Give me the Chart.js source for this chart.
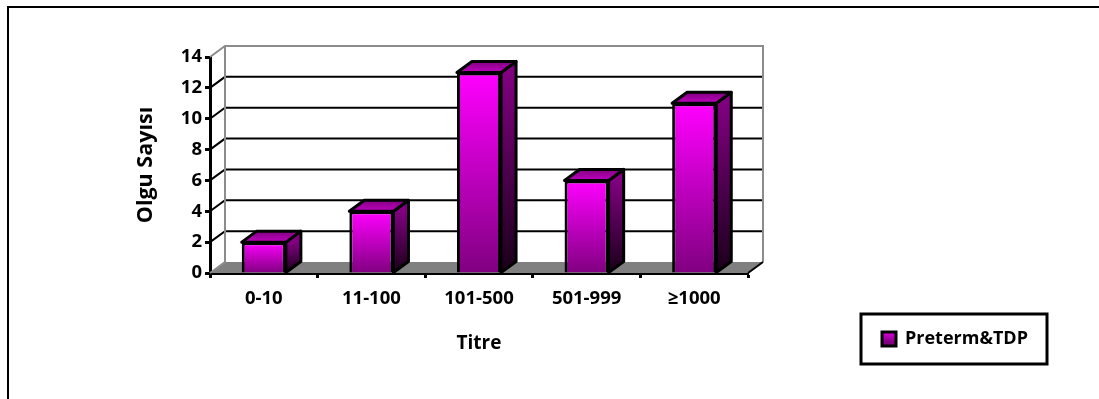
<!DOCTYPE html>
<html>
<head>
<meta charset="utf-8">
<script src="https://cdn.jsdelivr.net/npm/chart.js@4"></script>
<style>
  html, body { margin: 0; padding: 0; background: #fff; }
  #wrap { width: 1099px; height: 399px; position: relative; overflow: hidden; }
  #frame { position: absolute; left: 7px; top: 6px; width: 1200px; height: 600px; border: 2px solid #000; }
  canvas { position: absolute; left: 0; top: 0; }
</style>
</head>
<body>
<div id="wrap">
  <div id="frame"></div>
  <canvas id="titreChart" width="1099" height="399"></canvas>
</div>
<script>
const categories = ['0-10', '11-100', '101-500', '501-999', '≥1000'];
const seriesName = 'Preterm&TDP';
const caseCounts = [2, 4, 13, 6, 11];
const yTicks = [0, 2, 4, 6, 8, 10, 12, 14];

const FONT = '"Open Sans", sans-serif';
const DEPTH_X = 15;
const DEPTH_Y = -11;

function vGradient(ctx, y0, y1, top, bottom) {
  const g = ctx.createLinearGradient(0, y0, 0, y1);
  g.addColorStop(0, top);
  g.addColorStop(1, bottom);
  return g;
}

function poly(ctx, pts, fill, stroke, width) {
  ctx.beginPath();
  pts.forEach((p, i) => (i ? ctx.lineTo(p[0], p[1]) : ctx.moveTo(p[0], p[1])));
  ctx.closePath();
  if (fill) { ctx.fillStyle = fill; ctx.fill(); }
  if (stroke) { ctx.strokeStyle = stroke; ctx.lineWidth = width; ctx.lineJoin = 'round'; ctx.stroke(); }
}

// back wall, floor and grid sit behind the bars
const wallPlugin = {
  id: 'wall',
  beforeDatasetsDraw(chart) {
    const { ctx, chartArea: a, scales: { y } } = chart;
    ctx.save();
    const floorY = y.getPixelForValue(0);
    const topY = y.getPixelForValue(14);

    poly(ctx, [[a.left, floorY], [a.right, floorY], [a.right + DEPTH_X, floorY + DEPTH_Y], [a.left + DEPTH_X, floorY + DEPTH_Y]], '#808080');

    ctx.lineWidth = 2;
    yTicks.slice(1, -1).forEach(v => {
      const py = y.getPixelForValue(v);
      ctx.strokeStyle = '#000';
      ctx.beginPath();
      ctx.moveTo(a.left, py);
      ctx.lineTo(a.left + DEPTH_X, py + DEPTH_Y);
      ctx.lineTo(a.right + DEPTH_X, py + DEPTH_Y);
      ctx.stroke();
    });

    ctx.strokeStyle = '#8c8c8c';
    ctx.beginPath();
    ctx.moveTo(a.left, topY);
    ctx.lineTo(a.left + DEPTH_X, topY + DEPTH_Y);
    ctx.lineTo(a.right + DEPTH_X, topY + DEPTH_Y);
    ctx.lineTo(a.right + DEPTH_X, floorY + DEPTH_Y);
    ctx.moveTo(a.left + DEPTH_X, topY + DEPTH_Y);
    ctx.lineTo(a.left + DEPTH_X, floorY + DEPTH_Y);
    ctx.lineTo(a.left, floorY);
    ctx.stroke();

    ctx.strokeStyle = '#000';
    ctx.beginPath();
    ctx.moveTo(a.right, floorY);
    ctx.lineTo(a.right + DEPTH_X, floorY + DEPTH_Y);
    ctx.stroke();
    ctx.restore();
  }
};

// side and top faces of each column, taken from the bar elements
const facesPlugin = {
  id: 'faces',
  afterDatasetDraw(chart) {
    const { ctx } = chart;
    ctx.save();
    chart.getDatasetMeta(0).data.forEach(bar => {
      const p = bar.getProps(['x', 'y', 'base', 'width'], true);
      const l = p.x - p.width / 2;
      const r = p.x + p.width / 2;
      const side = vGradient(ctx, p.y, p.base, '#800080', '#1a001a');
      const top = vGradient(ctx, p.y + DEPTH_Y, p.y, '#800080', '#c000c0');
      poly(ctx, [[r, p.y], [r + DEPTH_X, p.y + DEPTH_Y], [r + DEPTH_X, p.base + DEPTH_Y], [r, p.base]], side, '#000', 3);
      poly(ctx, [[l, p.y], [l + DEPTH_X, p.y + DEPTH_Y], [r + DEPTH_X, p.y + DEPTH_Y], [r, p.y]], top, '#000', 3);
    });
    ctx.restore();
  }
};

// the legend sits in its own boxed area low on the right
const LEGEND_BOX = { left: 861, top: 314, right: 1047, bottom: 364 };
const LEGEND_INSET = 6;
const legendBoxPlugin = {
  id: 'legendBox',
  afterLayout(chart) {
    Object.assign(chart.legend, LEGEND_BOX);
    chart.legend.left += LEGEND_INSET;
    chart.legend.width = LEGEND_BOX.right - chart.legend.left;
    chart.legend.height = LEGEND_BOX.bottom - LEGEND_BOX.top;
  },
  beforeDraw(chart) {
    const { ctx } = chart;
    ctx.save();
    ctx.strokeStyle = '#000';
    ctx.lineWidth = 3;
    ctx.strokeRect(LEGEND_BOX.left, LEGEND_BOX.top, LEGEND_BOX.right - LEGEND_BOX.left, LEGEND_BOX.bottom - LEGEND_BOX.top);
    ctx.restore();
  }
};

const canvas = document.getElementById('titreChart');
const ctx2d = canvas.getContext('2d');

new Chart(canvas, {
  type: 'bar',
  data: {
    labels: categories,
    datasets: [{
      label: seriesName,
      data: caseCounts,
      barPercentage: 0.41,
      categoryPercentage: 1,
      borderColor: '#000',
      borderWidth: 3,
      backgroundColor(c) {
        const y = c.chart.scales.y;
        const top = y && y.getPixelForValue(caseCounts[c.dataIndex]);
        if (!Number.isFinite(top)) return '#ff00ff';
        return vGradient(c.chart.ctx, top, y.getPixelForValue(0), '#ff00ff', '#800080');
      }
    }]
  },
  options: {
    responsive: false,
    animation: false,
    layout: { padding: { left: 133, right: 351, top: 57, bottom: 26 } },
    plugins: {
      tooltip: { enabled: false },
      title: { display: false },
      legend: {
        position: 'chartArea',
        align: 'center',
        labels: {
          color: '#000',
          font: { family: FONT, size: 18, weight: 'bold' },
          boxWidth: 14,
          boxHeight: 14,
          padding: 15,
          generateLabels() {
            return [{
              text: seriesName,
              fillStyle: vGradient(ctx2d, 329, 342, '#ff00ff', '#800080'),
              strokeStyle: '#000',
              lineWidth: 3,
              datasetIndex: 0
            }];
          }
        }
      }
    },
    scales: {
      x: {
        afterFit(s) { s.height = 100; },
        grid: { display: true, drawOnChartArea: false, drawTicks: true, tickLength: 5, tickColor: '#000', tickWidth: 3 },
        border: { color: '#000', width: 3 },
        ticks: { color: '#000', font: { family: FONT, size: 18.5, weight: 'bold' }, padding: 10, maxRotation: 0 },
        title: { display: true, text: 'Titre', color: '#000', font: { family: FONT, size: 19, weight: 'bold' }, padding: { top: 0, bottom: 18 } }
      },
      y: {
        min: 0,
        max: 14,
        afterFit(s) { s.width = 77; },
        afterBuildTicks(s) { s.ticks = yTicks.map(v => ({ value: v })); },
        grid: { display: true, drawOnChartArea: false, drawTicks: true, tickLength: 5, tickColor: '#000', tickWidth: 3 },
        border: { color: '#000', width: 3 },
        ticks: { color: '#000', font: { family: FONT, size: 18.5, weight: 'bold' }, padding: 3 },
        title: { display: true, text: 'Olgu Sayısı', color: '#000', font: { family: FONT, size: 21.5, weight: 'bold' }, padding: { top: 0, bottom: 0 } }
      }
    }
  },
  plugins: [wallPlugin, facesPlugin, legendBoxPlugin]
});
</script>
</body>
</html>
